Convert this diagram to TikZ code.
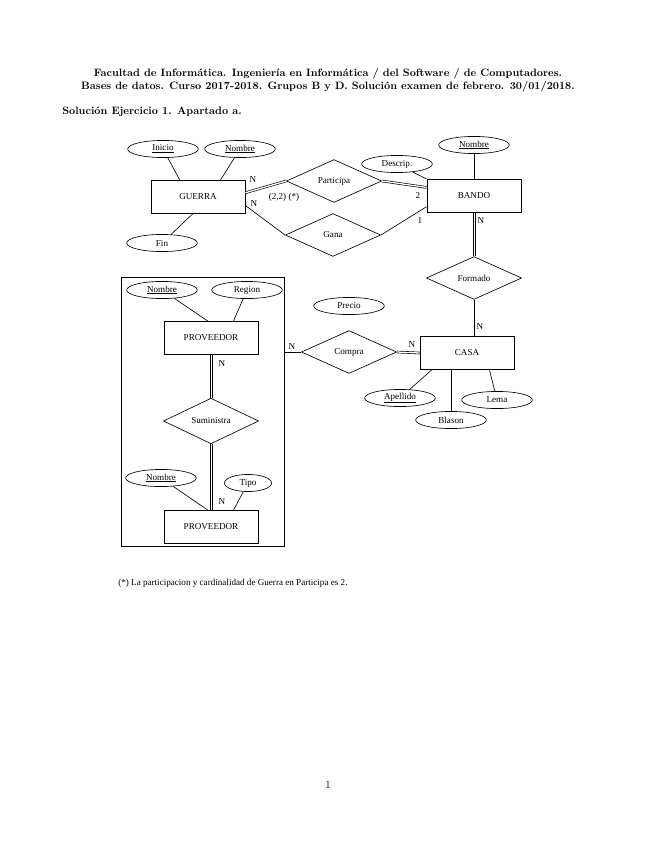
\documentclass[tikz,border=0pt]{standalone}
\usepackage{fontspec}
\newfontfamily\erfont{Liberation Serif}
\newcommand{\erf}{\erfont\fontsize{8.5}{10}\selectfont}
\usetikzlibrary{shapes.geometric}

\begin{document}
\begin{tikzpicture}[x=0.934pt, y=-0.934pt, line width=0.6pt,
    myent/.style={rectangle, draw, minimum width=88pt, minimum height=31pt, font=\erf},
    myattr/.style={ellipse, draw, minimum width=66pt, minimum height=16pt, inner sep=0pt, font=\erf},
    myrel/.style={diamond, draw, minimum width=89pt, minimum height=40pt, inner sep=0pt, font=\erf},
    mylabel/.style={font=\erf, inner sep=1pt},
    mydouble/.style={double, double distance=1.2pt}
]
    \useasboundingbox (0,0) rectangle (655,848);

    % Title
    \node[font=\bfseries, align=center] (title) at (328,80)
        {Facultad de Informática. Ingeniería en Informática / del Software / de Computadores.\\
         Bases de datos. Curso 2017-2018. Grupos B y D. Solución examen de febrero. 30/01/2018.};
    \node[font=\bfseries, anchor=west, inner sep=0pt] (sub) at (62,112) {Solución Ejercicio 1. Apartado a.};

    % Guerra
    \node[myent] (guerra) at (198,197) {GUERRA};
    \node[myattr] (inicio) at (163,149) {\underline{Inicio}};
    \node[myattr] (nombreG) at (240,149) {\underline{Nombre}};
    \node[myattr] (fin) at (162,243) {Fin};
    \draw (inicio) -- ([xshift=-17pt]guerra.north);
    \draw (nombreG) -- ([xshift=21pt]guerra.north);
    \draw (fin) -- ([xshift=-5pt]guerra.south);

    % Participa and Gana
    \node[myrel] (participa) at (334,181) {Participa};
    \node[myrel] (gana) at (333,235) {Gana};

    % Bando
    \node[myent] (bando) at (474,196) {BANDO};
    \node[myattr] (descrip) at (397,164) {Descrip.};
    \node[myattr] (nombreB) at (474,145) {\underline{Nombre}};
    \draw (descrip) -- (bando.north west);
    \draw (nombreB) -- (nombreB |- bando.north);

    \draw[mydouble] ([yshift=4pt]guerra.east) -- (participa.west);
    \draw[mydouble] (participa.east) -- ([yshift=8pt]bando.west);
    \draw ([yshift=-8pt]guerra.east) -- (gana.west);
    \draw (gana.east) -- ([yshift=-10pt]bando.west);
    \node[mylabel] (lg1) at (253,180) {N};
    \node[mylabel] (lg2) at (284,197) {(2,2) (*)};
    \node[mylabel] (lg3) at (254,204) {N};
    \node[mylabel] (lb1) at (418,195) {2};
    \node[mylabel] (lb2) at (420,220) {1};

    % Formado and Casa
    \node[myrel] (formado) at (474,278) {Formado};
    \node[myent] (casa) at (467,353) {CASA};
    \foreach \s in {-1.1pt,1.1pt}
        \draw ([xshift=\s]bando.south) -- ([xshift=\s]formado.north);
    \draw (formado.south) -- (formado.south |- casa.north);
    \node[mylabel] (lf1) at (481,221) {N};
    \node[mylabel] (lf2) at (480,327) {N};

    \node[myattr] (apellido) at (400,398) {\underline{Apellido}};
    \node[myattr] (blason) at (451,420) {Blason};
    \node[myattr] (lema) at (497,400) {Lema};
    \draw (apellido) -- ([xshift=-33pt]casa.south);
    \draw (blason) -- (blason |- casa.south);
    \draw (lema) -- ([xshift=21pt]casa.south);

    % Compra
    \node[myrel] (compra) at (349,352) {Compra};
    \node[myattr] (precio) at (349,306) {Precio};
    \draw[mydouble] (compra.east) -- (casa.west);
    \node[mylabel] (lc1) at (412,345) {N};
    \node[mylabel] (lc2) at (292,347) {N};

    % Aggregation box
    \node[draw, minimum width=152pt, minimum height=251pt, inner sep=0pt] (agg) at (202.5,411.5) {};
    \draw (compra.west) -- (compra.west -| agg.east);

    \node[myent] (prov1) at (211,338) {PROVEEDOR};
    \node[myattr] (nombreP1) at (162,290) {\underline{Nombre}};
    \node[myattr] (region) at (247,290) {Region};
    \draw (nombreP1) -- ([xshift=-3pt]prov1.north);
    \draw (region) -- ([xshift=21pt]prov1.north);

    \node[myrel] (suministra) at (211,421) {Suministra};
    \node[myent] (prov2) at (211,527) {PROVEEDOR};
    \node[myattr] (nombreP2) at (161,478) {\underline{Nombre}};
    \node[myattr, minimum width=44pt] (tipo) at (248,483) {Tipo};
    \draw (nombreP2) -- ([xshift=-3pt]prov2.north);
    \draw (tipo) -- ([xshift=21pt]prov2.north);
    \foreach \s in {-1.1pt,1.1pt} {
        \draw ([xshift=\s]prov1.south) -- ([xshift=\s]suministra.north);
        \draw ([xshift=\s]suministra.south) -- ([xshift=\s]prov2.north);
    }
    \node[mylabel] (ls1) at (222,364) {N};
    \node[mylabel] (ls2) at (222,502) {N};

    % Footnote and page number
    \node[font=\erf, anchor=west, inner sep=0pt] (note) at (118,583)
        {(*) La participacion y cardinalidad de Guerra en Participa es 2.};
    \node (page) at (328,785) {1};
\end{tikzpicture}
\end{document}
